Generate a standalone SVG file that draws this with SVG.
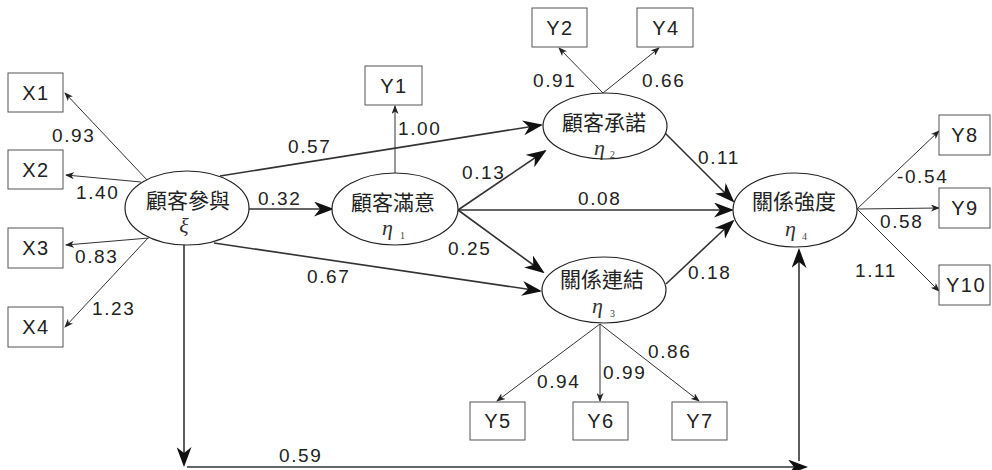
<svg xmlns="http://www.w3.org/2000/svg" width="992" height="470" viewBox="0 0 992 470">
<defs>
<style>
.box{fill:#fff;stroke:#555;stroke-width:1}
.ell{fill:#fff;stroke:#222;stroke-width:1.2}
.bl{font-family:"Liberation Sans",Arial,sans-serif;font-size:20px;fill:#222;text-anchor:middle;letter-spacing:1.5px}
.lab{font-family:"Liberation Sans",Arial,sans-serif;font-size:19px;fill:#222;letter-spacing:1.6px}
.zh{font-family:"Noto Sans CJK TC","Noto Sans CJK SC",sans-serif;font-size:21px;fill:#222;text-anchor:middle}
.gk{font-family:"Liberation Serif","Times New Roman",serif;font-style:italic;font-size:22px;fill:#333}
.sub{font-family:"Liberation Serif","Times New Roman",serif;font-size:10px;fill:#444}
.thin{stroke:#333;stroke-width:1;fill:none;marker-end:url(#sm)}
.thick{stroke:#333;stroke-width:1.6;fill:none;marker-end:url(#bg)}
</style>
<marker id="sm" viewBox="0 0 9 7" refX="8" refY="3.5" markerWidth="9" markerHeight="7" markerUnits="userSpaceOnUse" orient="auto">
<path d="M0,0 L9,3.5 L0,7 L2.5,3.5 z" fill="#222"/>
</marker>
<marker id="bg" viewBox="0 0 20 15" refX="18" refY="7.5" markerWidth="20" markerHeight="15" markerUnits="userSpaceOnUse" orient="auto">
<path d="M0,0 L20,7.5 L0,15 L6,7.5 z" fill="#111"/>
</marker>
</defs>
<rect width="992" height="470" fill="#fff"/>

<g id="connectors">
<line class="thin" x1="148" y1="181" x2="65" y2="93"/>
<line class="thin" x1="141" y1="182" x2="66" y2="175"/>
<line class="thin" x1="149" y1="238" x2="66" y2="245"/>
<line class="thin" x1="148" y1="238" x2="65" y2="327"/>
<line class="thick" x1="249" y1="209" x2="332" y2="209"/>
<line class="thick" x1="220" y1="176" x2="541" y2="125"/>
<line class="thick" x1="214" y1="243" x2="540" y2="291"/>
<line class="thin" x1="395" y1="173" x2="395" y2="106"/>
<line class="thick" x1="458" y1="210" x2="545" y2="151"/>
<line class="thick" x1="458" y1="210" x2="732" y2="210"/>
<line class="thick" x1="458" y1="210" x2="543" y2="272"/>
<line class="thick" x1="665" y1="133" x2="733" y2="201"/>
<line class="thick" x1="666" y1="284" x2="733" y2="221"/>
<line class="thin" x1="603" y1="93" x2="559" y2="48"/>
<line class="thin" x1="603" y1="93" x2="659" y2="48"/>
<line class="thin" x1="600" y1="324" x2="497" y2="401"/>
<line class="thin" x1="600" y1="324" x2="600" y2="401"/>
<line class="thin" x1="600" y1="324" x2="699" y2="401"/>
<line class="thin" x1="857" y1="209" x2="939" y2="131"/>
<line class="thin" x1="857" y1="209" x2="939" y2="208"/>
<line class="thin" x1="857" y1="209" x2="939" y2="291"/>
<line class="thick" x1="184" y1="245" x2="184" y2="465"/>
<line class="thick" x1="187" y1="467" x2="806" y2="467"/>
<line class="thick" x1="799" y1="461" x2="799" y2="250"/>
<text class="lab" x="52" y="142">0.93</text>
<text class="lab" x="76" y="199">1.40</text>
<text class="lab" x="75" y="263">0.83</text>
<text class="lab" x="92" y="315">1.23</text>
<text class="lab" x="258" y="205">0.32</text>
<text class="lab" x="288" y="153">0.57</text>
<text class="lab" x="398" y="135">1.00</text>
<text class="lab" x="462" y="179">0.13</text>
<text class="lab" x="578" y="205">0.08</text>
<text class="lab" x="448" y="255">0.25</text>
<text class="lab" x="307" y="283">0.67</text>
<text class="lab" x="698" y="164">0.11</text>
<text class="lab" x="688" y="279">0.18</text>
<text class="lab" x="897" y="183">-0.54</text>
<text class="lab" x="880" y="228">0.58</text>
<text class="lab" x="855" y="277">1.11</text>
<text class="lab" x="533" y="87">0.91</text>
<text class="lab" x="642" y="87">0.66</text>
<text class="lab" x="537" y="388">0.94</text>
<text class="lab" x="603" y="379">0.99</text>
<text class="lab" x="648" y="358">0.86</text>
<text class="lab" x="279" y="462">0.59</text>
</g>

<g id="xi">
<ellipse class="ell" cx="187" cy="208" rx="62" ry="37"/>
<text class="zh" x="188" y="208">顧客參與</text>
<text class="gk" x="184" y="233" text-anchor="middle" font-size="19">ξ</text>
</g>
<g id="eta1">
<ellipse class="ell" cx="395" cy="209" rx="63" ry="36"/>
<text class="zh" x="393" y="210">顧客滿意</text>
<text class="gk" x="382" y="235">η</text><text class="sub" x="400" y="239">1</text>
</g>
<g id="eta2">
<ellipse class="ell" cx="605" cy="126" rx="62" ry="33"/>
<text class="zh" x="604" y="130">顧客承諾</text>
<text class="gk" x="594" y="155" font-size="20">η</text><text class="sub" x="610" y="158">2</text>
</g>
<g id="eta3">
<ellipse class="ell" cx="604" cy="290" rx="62" ry="33"/>
<text class="zh" x="602" y="287">關係連結</text>
<text class="gk" x="592" y="313">η</text><text class="sub" x="610" y="317">3</text>
</g>
<g id="eta4">
<ellipse class="ell" cx="795" cy="210" rx="62" ry="37"/>
<text class="zh" x="794" y="209">關係強度</text>
<text class="gk" x="785" y="236">η</text><text class="sub" x="802" y="240">4</text>
</g>

<g id="X1"><rect class="box" x="8" y="73" width="55" height="39"/><text class="bl" x="36" y="100">X1</text></g>
<g id="X2"><rect class="box" x="8" y="150" width="55" height="39"/><text class="bl" x="36" y="177">X2</text></g>
<g id="X3"><rect class="box" x="8" y="228" width="55" height="40"/><text class="bl" x="36" y="255">X3</text></g>
<g id="X4"><rect class="box" x="8" y="307" width="55" height="40"/><text class="bl" x="36" y="334">X4</text></g>
<g id="Y1"><rect class="box" x="365" y="66" width="57" height="39"/><text class="bl" x="394" y="93">Y1</text></g>
<g id="Y2"><rect class="box" x="532" y="8" width="55" height="39"/><text class="bl" x="560" y="35">Y2</text></g>
<g id="Y4"><rect class="box" x="637" y="8" width="56" height="39"/><text class="bl" x="666" y="35">Y4</text></g>
<g id="Y8"><rect class="box" x="939" y="115" width="51" height="40"/><text class="bl" x="965" y="142">Y8</text></g>
<g id="Y9"><rect class="box" x="939" y="188" width="51" height="40"/><text class="bl" x="965" y="215">Y9</text></g>
<g id="Y10"><rect class="box" x="939" y="265" width="51" height="40"/><text class="bl" x="966" y="292">Y10</text></g>
<g id="Y5"><rect class="box" x="470" y="402" width="55" height="38"/><text class="bl" x="498" y="428">Y5</text></g>
<g id="Y6"><rect class="box" x="573" y="402" width="55" height="38"/><text class="bl" x="601" y="428">Y6</text></g>
<g id="Y7"><rect class="box" x="672" y="402" width="55" height="38"/><text class="bl" x="700" y="428">Y7</text></g>
</svg>
